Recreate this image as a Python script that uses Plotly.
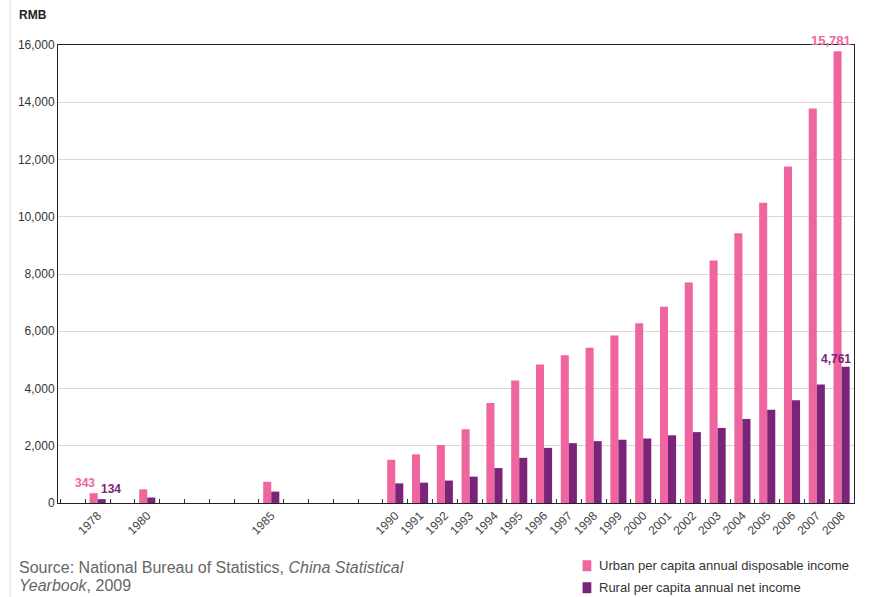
import plotly.graph_objects as go

years = [1978, 1980, 1985, 1990, 1991, 1992, 1993, 1994, 1995, 1996, 1997,
         1998, 1999, 2000, 2001, 2002, 2003, 2004, 2005, 2006, 2007, 2008]
urban = [343, 478, 739, 1510, 1701, 2027, 2577, 3496, 4283, 4839, 5160,
         5425, 5854, 6280, 6860, 7703, 8472, 9422, 10493, 11759, 13786, 15781]
rural = [134, 191, 398, 686, 709, 784, 922, 1221, 1578, 1926, 2090,
         2162, 2210, 2253, 2366, 2476, 2622, 2936, 3255, 3587, 4140, 4761]

urban_name = "Urban per capita annual disposable income"
rural_name = "Rural per capita annual net income"
y_ticks = [0, 2000, 4000, 6000, 8000, 10000, 12000, 14000, 16000]
source_lines = ["Source: National Bureau of Statistics, <i>China Statistical</i>",
                "<i>Yearbook</i>, 2009"]

PINK = "#ef659f"
PURPLE = "#7a2479"
FONT = "Liberation Sans, Arial, sans-serif"

fig = go.Figure()
fig.add_trace(go.Bar(x=years, y=urban, name=urban_name, marker_color=PINK,
                     marker_line_width=0))
fig.add_trace(go.Bar(x=years, y=rural, name=rural_name, marker_color=PURPLE,
                     marker_line_width=0))

fig.update_layout(
    width=869, height=597,
    margin=dict(l=58, r=15, t=45, b=94),
    paper_bgcolor="white", plot_bgcolor="white",
    barmode="group", bargap=0.35, bargroupgap=0,
    font=dict(family=FONT, size=11, color="#333"),
    showlegend=False,
)

fig.update_xaxes(
    range=[1976.4, 2008.5],
    tickmode="array", tickvals=years, ticktext=[str(y) for y in years],
    tickangle=-45, ticks="", tickfont=dict(size=12, color="#444"),
    showgrid=False, zeroline=False,
    showline=True, linecolor="#222", linewidth=1, mirror=True,
    minor=dict(ticks="inside", ticklen=4, tickcolor="#333", tick0=1976.5,
               dtick=1, showgrid=False),
)
fig.update_yaxes(
    range=[0, 16000], tickvals=y_ticks,
    ticktext=[f"{v:,}" for v in y_ticks],
    tickfont=dict(size=12, color="#333"),
    showgrid=True, gridcolor="#d8d8d8", gridwidth=1, zeroline=False,
    showline=True, linecolor="#222", linewidth=1, mirror=True, ticks="",
)

# value labels on first and last bars
fig.add_annotation(x=years[0], y=urban[0], text=f"<b>{urban[0]}</b>", showarrow=False,
                   xanchor="center", yanchor="bottom", xshift=-13, yshift=1,
                   font=dict(size=12, color=PINK, family=FONT))
fig.add_annotation(x=years[0], y=rural[0], text=f"<b>{rural[0]}</b>", showarrow=False,
                   xanchor="center", yanchor="bottom", xshift=13, yshift=1,
                   font=dict(size=12, color=PURPLE, family=FONT))
fig.add_annotation(x=years[-1], y=urban[-1], text=f"<b>{urban[-1]:,}</b>", showarrow=False,
                   xanchor="center", yanchor="bottom", xshift=-11, yshift=1,
                   font=dict(size=13, color=PINK, family=FONT))
fig.add_annotation(x=years[-1], y=rural[-1], text=f"<b>{rural[-1]:,}</b>", showarrow=False,
                   xanchor="center", yanchor="bottom", xshift=-6, yshift=-1,
                   font=dict(size=12, color=PURPLE, family=FONT))

# unit label
fig.add_annotation(xref="paper", yref="paper", x=-0.051, y=1.065, text="<b>RMB</b>",
                   showarrow=False, xanchor="left", yanchor="middle",
                   font=dict(size=12, color="#222", family=FONT))

# legend drawn as squares + text below the plot
for i, (name, col) in enumerate([(urban_name, PINK), (rural_name, PURPLE)]):
    yy = -0.137 - i * 0.048
    fig.add_shape(type="rect", xref="paper", yref="paper",
                  x0=0.659, x1=0.670, y0=yy - 0.012, y1=yy + 0.012,
                  fillcolor=col, line_width=0)
    fig.add_annotation(xref="paper", yref="paper", x=0.6775, y=yy, text=name,
                       showarrow=False, xanchor="left", yanchor="middle",
                       font=dict(size=13, color="#333", family=FONT))

# source note, one annotation per line
for i, line in enumerate(source_lines):
    fig.add_annotation(xref="paper", yref="paper", x=-0.052, y=-0.1419 - i * 0.0393,
                       text=line, showarrow=False, xanchor="left", yanchor="middle",
                       font=dict(size=16, color="#666", family=FONT))

# thin page rule at the left edge
fig.add_shape(type="line", xref="paper", yref="paper", x0=-0.0603, x1=-0.0603,
              y0=-0.22, y1=1.1, line=dict(color="#ebe8df", width=1.5))

fig.write_html("out.html")
